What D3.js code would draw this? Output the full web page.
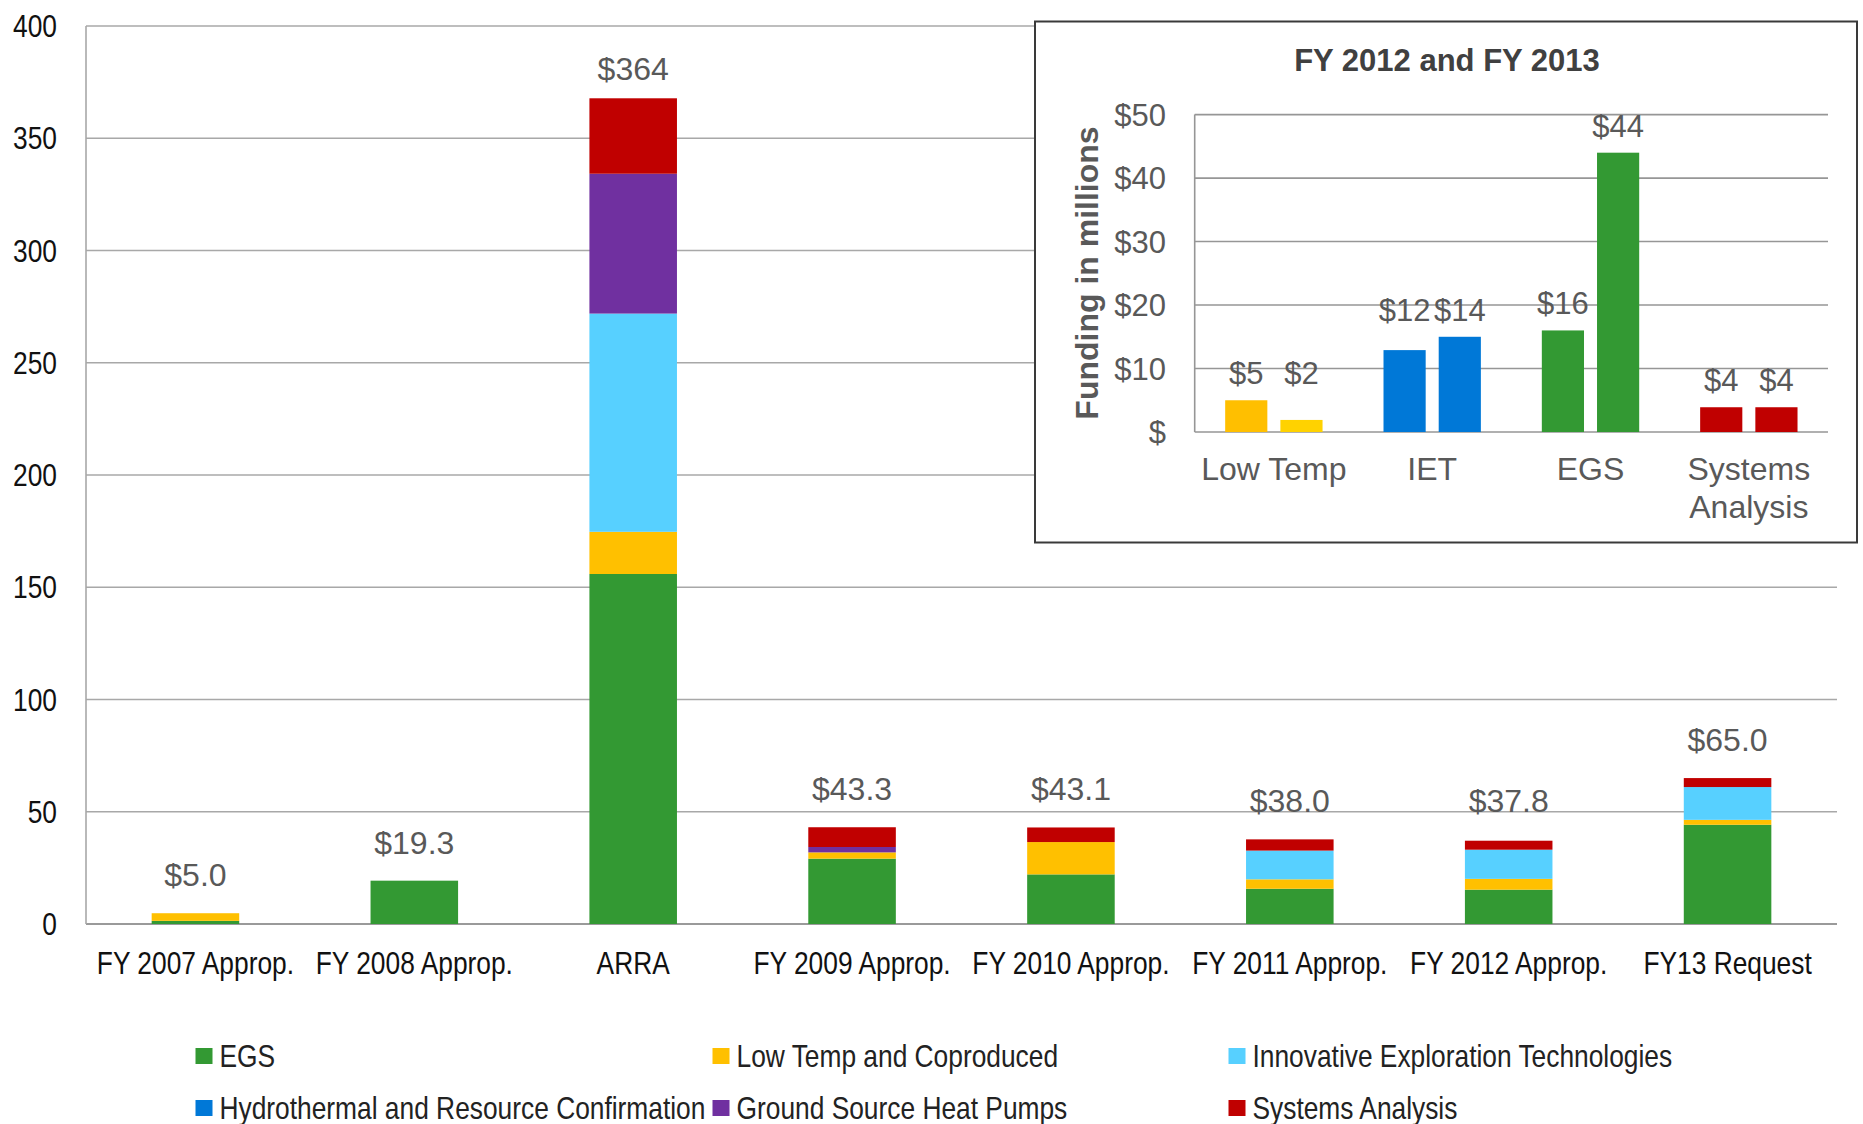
<!DOCTYPE html>
<html><head><meta charset="utf-8">
<script src="https://cdn.jsdelivr.net/npm/d3@7"></script>
<style>body{margin:0;background:#fff}</style>
</head><body><svg id="c" width="1863" height="1124"></svg>
<script>
// ---------- main chart data ----------
const categories = ["FY 2007 Approp.", "FY 2008 Approp.", "ARRA", "FY 2009 Approp.", "FY 2010 Approp.", "FY 2011 Approp.", "FY 2012 Approp.", "FY13 Request"];
const seriesNames = ["EGS", "Low Temp and Coproduced", "Innovative Exploration Technologies", "Hydrothermal and Resource Confirmation", "Ground Source Heat Pumps", "Systems Analysis"];
const egs         = [1.4, 19.3, 155.9, 29.1, 22.1, 15.7, 15.3, 44.2];
const lowTemp     = [3.4, 0, 18.8, 2.8, 14.4, 4.2, 4.8, 2.2];
const iet         = [0, 0, 97.2, 0, 0, 12.8, 13.0, 14.6];
const hydro       = [0, 0, 0, 0, 0, 0, 0, 0];
const gshp        = [0, 0, 62.3, 2.4, 0, 0, 0, 0];
const sysAnalysis = [0, 0, 33.6, 8.8, 6.5, 5.0, 4.0, 4.0];
const totalLabels = ["$5.0", "$19.3", "$364", "$43.3", "$43.1", "$38.0", "$37.8", "$65.0"];
const yTicks = [0, 50, 100, 150, 200, 250, 300, 350, 400];

// ---------- inset data ----------
const insetTitle = "FY 2012 and FY 2013";
const insetYLabel = "Funding in millions";
const insetCategories = ["Low Temp", "IET", "EGS", "Systems Analysis"];
const insetCategoryLines = [["Low Temp"], ["IET"], ["EGS"], ["Systems", "Analysis"]];
const insetYears = ["FY 2012", "FY 2013"];
const inset2012 = [5.0, 12.9, 16.0, 3.9];
const inset2013 = [1.9, 15.0, 44.0, 3.9];
const inset2012Labels = ["$5", "$12", "$16", "$4"];
const inset2013Labels = ["$2", "$14", "$44", "$4"];
const insetTicks = [0, 10, 20, 30, 40, 50];
const insetTickLabels = ["$", "$10", "$20", "$30", "$40", "$50"];

// ---------- styles ----------
const colors = {
  "EGS": "#339933",
  "Low Temp and Coproduced": "#FFC000",
  "Innovative Exploration Technologies": "#57D0FF",
  "Hydrothermal and Resource Confirmation": "#0078D7",
  "Ground Source Heat Pumps": "#7030A0",
  "Systems Analysis": "#C00000"
};
const inset2012Colors = ["#FFBF00", "#0078D7", "#339933", "#C00000"];
const inset2013Colors = ["#FFD200", "#0078D7", "#339933", "#C00000"];
const FONT = '"Liberation Sans", Arial, "Helvetica", sans-serif';
const NARROW = 0.85;

const svg = d3.select("#c").attr("font-family", FONT);

function ntext(g, x, y, txt, anchor, size, fill) {
  return g.append("text")
    .attr("transform", `translate(${x},${y}) scale(${NARROW},1)`)
    .attr("text-anchor", anchor).attr("font-size", size).attr("fill", fill)
    .text(txt);
}

// ---------- main scales ----------
const x = d3.scaleBand().domain(categories).range([86, 1837]).paddingInner(0.6).paddingOuter(0.3);
const y = d3.scaleLinear().domain([0, 400]).range([924, 26]);

// gridlines
svg.append("g").selectAll("line").data(yTicks).join("line")
  .attr("x1", 86).attr("x2", 1837)
  .attr("y1", d => y(d)).attr("y2", d => y(d))
  .attr("stroke", d => d === 0 ? "#9a9a9a" : "#a8a8a8").attr("stroke-width", d => d === 0 ? 2 : 1.6);
// y axis line
svg.append("line").attr("x1", 86).attr("x2", 86).attr("y1", y(0)).attr("y2", y(400))
  .attr("stroke", "#a8a8a8").attr("stroke-width", 1.6);

// y tick labels
const gy = svg.append("g");
yTicks.forEach(t => ntext(gy, 57, y(t) + 11, String(t), "end", 31, "#111"));

// stacked bars
const table = categories.map((c, i) => ({
  cat: c,
  "EGS": egs[i],
  "Low Temp and Coproduced": lowTemp[i],
  "Innovative Exploration Technologies": iet[i],
  "Hydrothermal and Resource Confirmation": hydro[i],
  "Ground Source Heat Pumps": gshp[i],
  "Systems Analysis": sysAnalysis[i]
}));
const stacked = d3.stack().keys(seriesNames)(table);
svg.append("g").selectAll("g").data(stacked).join("g")
  .attr("fill", d => colors[d.key])
  .selectAll("rect").data(d => d.filter(s => s[1] - s[0] > 0)).join("rect")
  .attr("x", d => x(d.data.cat)).attr("width", x.bandwidth())
  .attr("y", d => y(d[1])).attr("height", d => y(d[0]) - y(d[1]));

// total labels (placed at the labelled total)
svg.append("g").selectAll("text").data(categories).join("text")
  .attr("x", d => x(d) + x.bandwidth() / 2)
  .attr("y", (d, i) => y(parseFloat(totalLabels[i].slice(1))) - 27)
  .attr("text-anchor", "middle").attr("font-size", 32).attr("fill", "#595959")
  .text((d, i) => totalLabels[i]);

// x labels
const gx = svg.append("g");
categories.forEach(c => ntext(gx, x(c) + x.bandwidth() / 2, 974, c, "middle", 31, "#111"));

// legend
const legendCols = [195.5, 712.5, 1228.5];
const legendRows = [1048, 1100];
const gl = svg.append("g");
seriesNames.forEach((s, i) => {
  const cx = legendCols[i % 3], cy = legendRows[Math.floor(i / 3)];
  gl.append("rect").attr("x", cx).attr("y", cy).attr("width", 17).attr("height", 16).attr("fill", colors[s]);
  ntext(gl, cx + 24, cy + 18.5, s, "start", 31, "#222");
});

// ---------- inset ----------
const ig = svg.append("g");
ig.append("rect").attr("x", 1035).attr("y", 21.5).attr("width", 822).attr("height", 521)
  .attr("fill", "#fff").attr("stroke", "#3a3a3a").attr("stroke-width", 2);

const ix0 = d3.scaleBand().domain(insetCategories).range([1194.7, 1828]).paddingInner(0.385).paddingOuter(0.1925);
const ix1 = d3.scaleBand().domain(insetYears).range([0, ix0.bandwidth()]).paddingInner(0.236);
const iy = d3.scaleLinear().domain([0, 50]).range([432, 114.6]);

ig.append("g").selectAll("line").data(insetTicks).join("line")
  .attr("x1", 1194.7).attr("x2", 1828)
  .attr("y1", d => iy(d)).attr("y2", d => iy(d))
  .attr("stroke", "#969696").attr("stroke-width", 1.6);
ig.append("line").attr("x1", 1194.7).attr("x2", 1194.7).attr("y1", iy(0)).attr("y2", iy(50))
  .attr("stroke", "#969696").attr("stroke-width", 1.6);

insetTicks.forEach((t, i) => {
  ig.append("text").attr("x", 1166).attr("y", iy(t) + 11).attr("text-anchor", "end")
    .attr("font-size", 31).attr("fill", "#595959").text(insetTickLabels[i]);
});

const insetSeries = [
  {year: insetYears[0], vals: inset2012, labels: inset2012Labels, cols: inset2012Colors},
  {year: insetYears[1], vals: inset2013, labels: inset2013Labels, cols: inset2013Colors}
];
insetSeries.forEach((s, si) => {
  const other = insetSeries[1 - si];
  ig.append("g").selectAll("rect").data(insetCategories).join("rect")
    .attr("x", c => ix0(c) + ix1(s.year)).attr("width", ix1.bandwidth())
    .attr("y", (c, i) => iy(s.vals[i])).attr("height", (c, i) => iy(0) - iy(s.vals[i]))
    .attr("fill", (c, i) => s.cols[i]);
  ig.append("g").selectAll("text").data(insetCategories).join("text")
    .attr("x", c => ix0(c) + ix1(s.year) + ix1.bandwidth() / 2)
    .attr("y", (c, i) => {
      const a = iy(s.vals[i]), b = iy(other.vals[i]);
      return (Math.abs(a - b) < 30 ? Math.min(a, b) : a) - 16;
    })
    .attr("text-anchor", "middle").attr("font-size", 31).attr("fill", "#595959")
    .text((c, i) => s.labels[i]);
});

insetCategories.forEach((c, i) => {
  insetCategoryLines[i].forEach((ln, j) => {
    ig.append("text").attr("x", ix0(c) + ix0.bandwidth() / 2).attr("y", 480 + j * 38)
      .attr("text-anchor", "middle").attr("font-size", 32).attr("fill", "#595959").text(ln);
  });
});

ig.append("text").attr("x", 1447).attr("y", 71).attr("text-anchor", "middle")
  .attr("font-size", 31).attr("font-weight", "bold").attr("fill", "#404040").text(insetTitle);
ig.append("text").attr("transform", "translate(1098,273) rotate(-90)").attr("text-anchor", "middle")
  .attr("font-size", 32).attr("font-weight", "bold").attr("fill", "#595959").text(insetYLabel);
</script>
</body></html>
